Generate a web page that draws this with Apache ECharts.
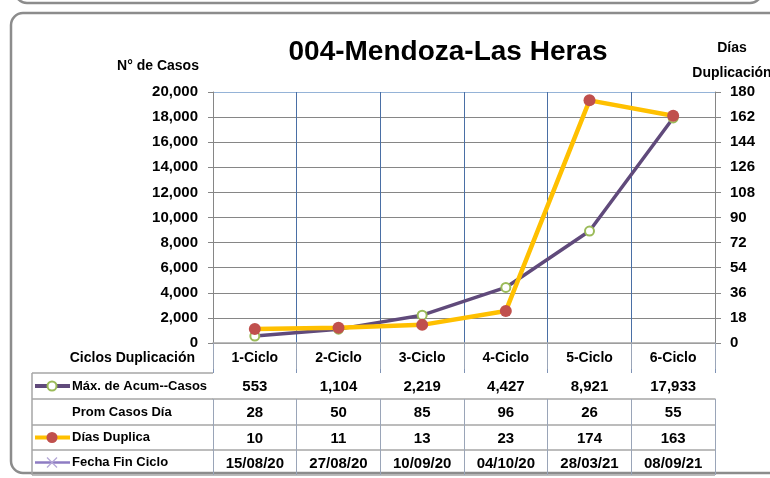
<!doctype html>
<html lang="es">
<head>
  <meta charset="utf-8">
  <title>004-Mendoza-Las Heras</title>
  <script src="https://cdnjs.cloudflare.com/ajax/libs/echarts/6.0.0/echarts.min.js"></script>
  <style>
    html, body { margin: 0; padding: 0; background: #ffffff; }
    #chart { width: 770px; height: 478px; }
  </style>
</head>
<body>
  <div id="chart"></div>
  <script type="text/javascript">
    // datos
    const ciclos = ['1-Ciclo', '2-Ciclo', '3-Ciclo', '4-Ciclo', '5-Ciclo', '6-Ciclo'];
    const maxAcumCasos = [553, 1104, 2219, 4427, 8921, 17933];
    const promCasosDia = [28, 50, 85, 96, 26, 55];
    const diasDuplica = [10, 11, 13, 23, 174, 163];
    const fechaFinCiclo = ['15/08/20', '27/08/20', '10/09/20', '04/10/20', '28/03/21', '08/09/21'];

    const FONT = '"Liberation Sans", Arial, sans-serif';
    const fmt = (v) => Number(v).toLocaleString('en-US');

    // filas de la tabla: offset desde el eje x y etiquetas
    const rowOffsets = [30, 56, 82, 107];
    const rowBottom = 132;
    const rowData = [maxAcumCasos.map(fmt), promCasosDia.map(String), diasDuplica.map(String), fechaFinCiclo];

    const chart = echarts.init(document.getElementById('chart'));

    const rowAxes = rowData.map((labels, i) => ({
      type: 'category',
      gridIndex: 0,
      position: 'bottom',
      offset: rowOffsets[i],
      data: labels,
      axisLine: { show: true, lineStyle: { color: '#a6a6a6', width: 1.5 } },
      axisTick: { show: true, length: (i < 3 ? rowOffsets[i + 1] : rowBottom) - rowOffsets[i], lineStyle: { color: '#9aa5b8' } },
      axisLabel: { margin: 6, color: '#000', fontWeight: 'bold', fontSize: 15, fontFamily: FONT },
      splitLine: { show: false }
    }));

    const gridTop = 92, gridBottom = 343, tableLeft = 32, gridLeft = 213, gridRight = 715;
    const rowY = rowOffsets.map((o) => gridBottom + o).concat([gridBottom + rowBottom]);
    const rowMid = rowOffsets.map((o, i) => (rowY[i] + rowY[i + 1]) / 2);

    const graphics = [
      // marcos
      { type: 'rect', shape: { x: 15, y: -100, width: 747, height: 103, r: 12 }, style: { fill: 'none', stroke: '#8c8c8c', lineWidth: 2.5 }, z: 0 },
      { type: 'rect', shape: { x: 11, y: 13, width: 790, height: 460, r: 12 }, style: { fill: 'none', stroke: '#8c8c8c', lineWidth: 2.5 }, z: 0 },
      // titulos de ejes
      { type: 'text', x: 158, y: 66, style: { text: 'N° de Casos', font: 'bold 14px ' + FONT, fill: '#000', align: 'center', verticalAlign: 'middle' } },
      { type: 'text', x: 732, y: 48, style: { text: 'Días', font: 'bold 14px ' + FONT, fill: '#000', align: 'center', verticalAlign: 'middle' } },
      { type: 'text', x: 732, y: 73, style: { text: 'Duplicación', font: 'bold 14px ' + FONT, fill: '#000', align: 'center', verticalAlign: 'middle' } },
      { type: 'text', x: 195, y: 358, style: { text: 'Ciclos Duplicación', font: 'bold 14px ' + FONT, fill: '#000', align: 'right', verticalAlign: 'middle' } },
      // borde izquierdo de la tabla
      { type: 'line', shape: { x1: tableLeft, y1: rowY[0], x2: tableLeft, y2: rowY[4] }, style: { stroke: '#a6a6a6', lineWidth: 1.5 } }
    ];
    rowY.forEach((y) => {
      graphics.push({ type: 'line', shape: { x1: tableLeft, y1: y, x2: gridLeft, y2: y }, style: { stroke: '#a6a6a6', lineWidth: 1.5 } });
    });
    graphics.push({ type: 'line', shape: { x1: gridLeft, y1: rowY[4], x2: gridRight, y2: rowY[4] }, style: { stroke: '#a6a6a6', lineWidth: 1.5 } });

    // rotulos y claves de leyenda
    const rowNames = ['Máx. de Acum--Casos', 'Prom Casos Día', 'Días Duplica', 'Fecha Fin Ciclo'];
    rowNames.forEach((name, i) => {
      graphics.push({ type: 'text', x: 72, y: rowMid[i], style: { text: name, font: 'bold 13px ' + FONT, fill: '#000', align: 'left', verticalAlign: 'middle' } });
    });
    graphics.push(
      { type: 'line', shape: { x1: 35, y1: rowMid[0], x2: 70, y2: rowMid[0] }, style: { stroke: '#604a7b', lineWidth: 4 } },
      { type: 'circle', shape: { cx: 52, cy: rowMid[0], r: 4.5 }, style: { fill: '#fff', stroke: '#9bbb59', lineWidth: 2 } },
      { type: 'line', shape: { x1: 35, y1: rowMid[2], x2: 70, y2: rowMid[2] }, style: { stroke: '#ffc000', lineWidth: 4 } },
      { type: 'circle', shape: { cx: 52, cy: rowMid[2], r: 5.5 }, style: { fill: '#c0504d' } },
      { type: 'line', shape: { x1: 35, y1: rowMid[3], x2: 70, y2: rowMid[3] }, style: { stroke: '#8e7cc3', lineWidth: 2.5 } },
      { type: 'line', shape: { x1: 47, y1: rowMid[3] - 5, x2: 57, y2: rowMid[3] + 5 }, style: { stroke: '#b4a7d6', lineWidth: 1.2 } },
      { type: 'line', shape: { x1: 47, y1: rowMid[3] + 5, x2: 57, y2: rowMid[3] - 5 }, style: { stroke: '#b4a7d6', lineWidth: 1.2 } }
    );

    const option = {
      backgroundColor: '#ffffff',
      animation: false,
      title: {
        text: '004-Mendoza-Las Heras',
        left: 443,
        top: 33,
        textAlign: 'center',
        textStyle: { color: '#000', fontSize: 28, fontWeight: 'bold', fontFamily: FONT }
      },
      grid: { left: gridLeft, right: 770 - gridRight, top: gridTop, bottom: 478 - gridBottom, containLabel: false },
      xAxis: [{
        type: 'category',
        position: 'bottom',
        data: ciclos,
        axisLine: { show: true, lineStyle: { color: '#868686', width: 1 } },
        axisTick: { show: true, length: rowOffsets[0], lineStyle: { color: '#7f93b5' } },
        axisLabel: { margin: 8, color: '#000', fontWeight: 'bold', fontSize: 14, fontFamily: FONT },
        splitLine: { show: true, lineStyle: { color: '#4a6fa5', width: 1 } }
      }].concat(rowAxes),
      yAxis: [{
        type: 'value',
        min: 0,
        max: 20000,
        interval: 2000,
        axisLine: { show: true, lineStyle: { color: '#868686' } },
        axisTick: { show: true, length: 5, lineStyle: { color: '#868686' } },
        axisLabel: { margin: 15, color: '#000', fontWeight: 'bold', fontSize: 15, fontFamily: FONT, formatter: fmt },
        splitLine: { show: true, lineStyle: { color: ['#868686', '#868686', '#868686', '#868686', '#868686', '#868686', '#868686', '#868686', '#868686', '#868686', '#95b3d7'], width: 1 } }
      }, {
        type: 'value',
        position: 'right',
        min: 0,
        max: 180,
        interval: 18,
        axisLine: { show: true, lineStyle: { color: '#868686' } },
        axisTick: { show: true, length: 6, lineStyle: { color: '#868686' } },
        axisLabel: { margin: 15, color: '#000', fontWeight: 'bold', fontSize: 15, fontFamily: FONT },
        splitLine: { show: false }
      }],
      series: [{
        name: 'Máx. de Acum--Casos',
        type: 'line',
        xAxisIndex: 0,
        yAxisIndex: 0,
        data: maxAcumCasos,
        symbol: 'circle',
        symbolSize: 9,
        lineStyle: { color: '#604a7b', width: 3.5 },
        itemStyle: { color: '#ffffff', borderColor: '#9bbb59', borderWidth: 2 },
        z: 3
      }, {
        name: 'Días Duplica',
        type: 'line',
        xAxisIndex: 0,
        yAxisIndex: 1,
        data: diasDuplica,
        symbol: 'circle',
        symbolSize: 12,
        lineStyle: { color: '#ffc000', width: 4.5 },
        itemStyle: { color: '#c0504d' },
        z: 4
      }],
      graphic: graphics
    };
    chart.setOption(option);
  </script>
</body>
</html>
